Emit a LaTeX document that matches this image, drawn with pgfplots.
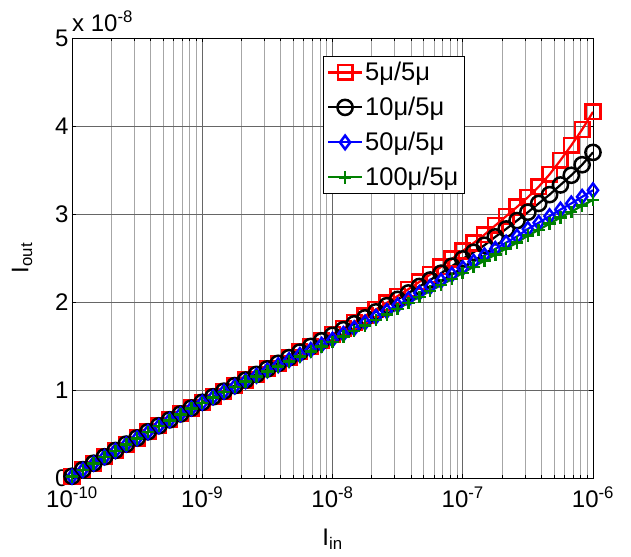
\documentclass[border=0pt]{standalone}
\usepackage{fontspec}
\setmainfont{Liberation Sans}
\usepackage{pgfplots}
\pgfplotsset{compat=1.18}
\usepackage{pgfplotstable}

% Output current (units of 1e-8 A) versus input current, four W/L ratios
\pgfplotstableread{
x          red   blk   blu   grn
1.0000e-10 0.020 0.020 0.015 0.015
1.2115e-10 0.095 0.095 0.090 0.090
1.4678e-10 0.168 0.168 0.163 0.163
1.7783e-10 0.241 0.241 0.236 0.236
2.1544e-10 0.313 0.313 0.308 0.308
2.6102e-10 0.385 0.385 0.380 0.380
3.1623e-10 0.455 0.455 0.450 0.450
3.8312e-10 0.525 0.525 0.520 0.520
4.6416e-10 0.593 0.593 0.588 0.588
5.6234e-10 0.661 0.661 0.656 0.656
6.8129e-10 0.728 0.728 0.723 0.723
8.2540e-10 0.795 0.795 0.790 0.790
1.0000e-9  0.860 0.860 0.855 0.855
1.2115e-9  0.923 0.923 0.917 0.915
1.4678e-9  0.987 0.987 0.979 0.976
1.7783e-9  1.050 1.050 1.040 1.035
2.1544e-9  1.113 1.113 1.101 1.095
2.6102e-9  1.177 1.177 1.162 1.154
3.1623e-9  1.240 1.240 1.222 1.212
3.8312e-9  1.304 1.303 1.281 1.269
4.6416e-9  1.369 1.367 1.340 1.325
5.6234e-9  1.434 1.431 1.398 1.381
6.8129e-9  1.499 1.495 1.456 1.436
8.2540e-9  1.565 1.559 1.514 1.492
1.0000e-8  1.632 1.622 1.572 1.547
1.2115e-8  1.700 1.685 1.637 1.610
1.4678e-8  1.770 1.752 1.702 1.672
1.7783e-8  1.842 1.820 1.767 1.735
2.1544e-8  1.915 1.888 1.832 1.797
2.6102e-8  1.990 1.958 1.897 1.860
3.1623e-8  2.067 2.030 1.962 1.922
3.8312e-8  2.146 2.103 2.032 1.990
4.6416e-8  2.228 2.176 2.102 2.057
5.6234e-8  2.312 2.250 2.172 2.125
6.8129e-8  2.399 2.327 2.242 2.192
8.2540e-8  2.488 2.407 2.312 2.260
1.0000e-7  2.580 2.490 2.385 2.330
1.2115e-7  2.670 2.565 2.458 2.400
1.4678e-7  2.765 2.645 2.530 2.469
1.7783e-7  2.870 2.740 2.603 2.539
2.1544e-7  2.975 2.830 2.675 2.608
2.6102e-7  3.080 2.925 2.745 2.674
3.1623e-7  3.190 3.020 2.830 2.755
3.8312e-7  3.310 3.120 2.900 2.820
4.6416e-7  3.450 3.220 2.975 2.890
5.6234e-7  3.610 3.330 3.050 2.960
6.8129e-7  3.780 3.440 3.120 3.025
8.2540e-7  3.960 3.560 3.195 3.095
1.0000e-6  4.160 3.700 3.270 3.160
}\iout

\definecolor{mgreen}{rgb}{0,0.5,0}
\newcommand{\tickfont}{\fontsize{24}{28}\selectfont}
\newcommand{\legfont}{\fontsize{25.5}{30}\selectfont}

\begin{document}
\begin{tikzpicture}
\begin{axis}[
  scale only axis,
  width=521pt, height=440pt,
  xmode=log,
  xmin=1e-10, xmax=1e-6,
  ymin=0, ymax=5,
  xtick={1e-10,1e-9,1e-8,1e-7,1e-6},
  xticklabels={10\textsuperscript{-10},10\textsuperscript{-9},10\textsuperscript{-8},10\textsuperscript{-7},10\textsuperscript{-6}},
  ytick={0,1,2,3,4,5},
  /pgf/number format/assume math mode=true,
  grid=both,
  major grid style={black!60, line width=0.5pt},
  minor grid style={black!35, line width=0.5pt},
  tick style={black, line width=0.5pt},
  axis line style={black, line width=0.6pt},
  tick label style={font=\tickfont},
  xticklabel shift=5pt,
  label style={font=\tickfont},
  xlabel={I\textsubscript{in}},
  ylabel={I\textsubscript{out}},
  xlabel shift=15pt,
  ylabel shift=16pt,
  legend style={at={(0.481,0.959)}, anchor=north west, font=\legfont,
    draw=black, line width=0.8pt, fill=white, row sep=11pt,
    inner sep=4pt},
  legend cell align=left,
  legend image code/.code={
    \draw[mark repeat=2, mark phase=2] plot coordinates {(0pt,0pt) (17pt,0pt) (34pt,0pt)};
  },
]
\addplot[red, line width=2.2pt, mark=square, mark size=7.3pt,
  mark options={solid, line width=2.5pt}] table[x=x, y=red] {\iout};
\addlegendentry{5μ/5μ}
\addplot[black, line width=2.2pt, mark=o, mark size=7.6pt,
  mark options={solid, line width=2.5pt}] table[x=x, y=blk] {\iout};
\addlegendentry{10μ/5μ}
\addplot[blue, line width=2.2pt, mark=diamond, mark size=6.8pt,
  mark options={solid, line width=2.5pt}] table[x=x, y=blu] {\iout};
\addlegendentry{50μ/5μ}
\addplot[mgreen, line width=2.2pt, mark=+, mark size=6.2pt,
  mark options={solid, line width=2.5pt}] table[x=x, y=grn] {\iout};
\addlegendentry{100μ/5μ}
\coordinate (bbA) at (rel axis cs:0,0);
\coordinate (bbB) at (rel axis cs:1,1);
\coordinate (bbC) at (rel axis cs:0,1);
\end{axis}
\node[anchor=base west, inner sep=0pt, font=\tickfont] at ([yshift=6pt]bbC) {x 10\textsuperscript{-8}};
\pgfresetboundingbox
\path ([xshift=-72pt,yshift=-79pt]bbA) rectangle ([xshift=38pt,yshift=38pt]bbB);
\end{tikzpicture}
\end{document}
